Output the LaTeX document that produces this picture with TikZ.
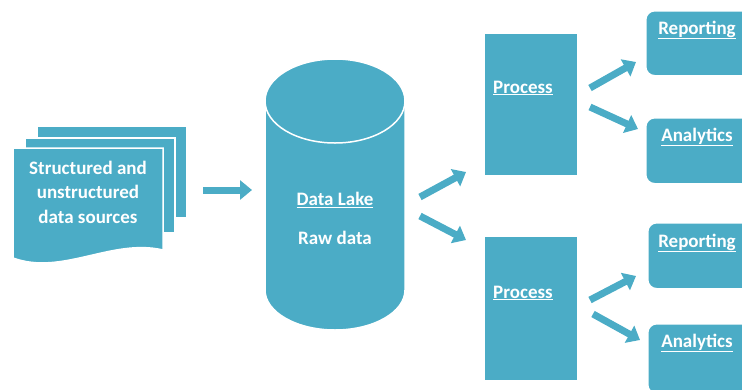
\documentclass[tikz,border=0pt]{standalone}
\usepackage{fontspec}
\setmainfont{Carlito}
\usetikzlibrary{arrows.meta}
\definecolor{aqua}{HTML}{4BACC6}
\begin{document}
\begin{tikzpicture}[x=1pt,y=-1pt,
  shapefill/.style={fill=aqua,draw=white,line width=1.5pt},
  lbl/.style={text=white,font=\bfseries\fontsize{19}{24.5}\selectfont,align=center,inner sep=0pt},
  blockarrow/.style={draw=aqua,line width=7pt,-{Triangle[length=12pt,width=19pt]}},
  boxnode/.style={shapefill,rectangle,inner sep=0pt,anchor=north west},
  roundbox/.style={boxnode,rounded corners=9pt},
]
\useasboundingbox (0,0) rectangle (742,389);
\clip (0,0) rectangle (742,389);
% document stack
\path[shapefill] (37,126) rectangle (187,218);
\path[shapefill] (25,138) rectangle (175,233);
\path[shapefill] (13,148) -- (163,148) -- (163,250) .. controls (112,238) and (62,276) .. (13,258) -- cycle;
\node[lbl] (src) at (88,192) {Structured and\\unstructured\\data sources};
% cylinder
\path[shapefill] (265,101) -- (265,290) .. controls (265,312) and (296.3,330) .. (335,330) .. controls (373.7,330) and (405,312) .. (405,290) -- (405,101) -- cycle;
\path[shapefill] (335,101) ellipse [x radius=70, y radius=42];
\node[lbl] (lake) at (335,200) {\underline{Data Lake}};
\node[lbl] (raw) at (335,238) {Raw data};
% process boxes
\node[boxnode,minimum width=94pt,minimum height=143pt] (proc1) at (483,32) {};
\node[boxnode,minimum width=94pt,minimum height=145pt] (proc2) at (483,235) {};
\node[lbl] (proc1t) at (523,88) {\underline{Process}};
\node[lbl] (proc2t) at (523,293) {\underline{Process}};
% output boxes
\node[roundbox,minimum width=130pt,minimum height=65pt] (rep1) at (645,10) {};
\node[roundbox,minimum width=130pt,minimum height=66pt] (ana1) at (645,117) {};
\node[roundbox,minimum width=130pt,minimum height=66pt] (rep2) at (647,222) {};
\node[roundbox,minimum width=130pt,minimum height=70pt] (ana2) at (647,323) {};
\node[lbl] (rep1t) at (697,30) {\underline{Reporting}};
\node[lbl] (ana1t) at (697,137) {\underline{Analytics}};
\node[lbl] (rep2t) at (697,243) {\underline{Reporting}};
\node[lbl] (ana2t) at (697,343) {\underline{Analytics}};
% arrows
\coordinate (a1s) at (203,190); \coordinate (a1e) at (252,190);
\coordinate (a2s) at (420,197); \coordinate (a2e) at (466,172);
\coordinate (a3s) at (420,216); \coordinate (a3e) at (466,240);
\coordinate (a4s) at (590,88);  \coordinate (a4e) at (636,62);
\coordinate (a5s) at (590,107); \coordinate (a5e) at (638,129);
\coordinate (a6s) at (590,300); \coordinate (a6e) at (636,276);
\coordinate (a7s) at (593,314); \coordinate (a7e) at (640,340);
\draw[blockarrow] (a1s) -- (a1e);
\draw[blockarrow] (a2s) -- (a2e);
\draw[blockarrow] (a3s) -- (a3e);
\draw[blockarrow] (a4s) -- (a4e);
\draw[blockarrow] (a5s) -- (a5e);
\draw[blockarrow] (a6s) -- (a6e);
\draw[blockarrow] (a7s) -- (a7e);
\end{tikzpicture}
\end{document}
